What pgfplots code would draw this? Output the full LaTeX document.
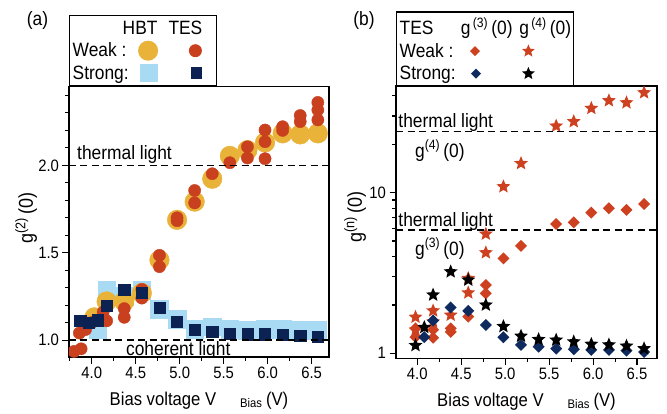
\documentclass[border=0pt]{standalone}
\usepackage{fontspec}
\setmainfont{Liberation Sans}[FakeStretch=0.9]
\usepackage{pgfplots}
\pgfplotsset{compat=1.18}

\definecolor{hbtw}{HTML}{E9B238}
\definecolor{tesw}{HTML}{C8401E}
\definecolor{hbts}{HTML}{A8DBF3}
\definecolor{tess}{HTML}{0C2252}
\definecolor{redb}{HTML}{CD4120}
\definecolor{navb}{HTML}{0E2A5E}

% filled five-point star
\pgfdeclareplotmark{fstar}{%
  \pgfpathmoveto{\pgfpointpolar{90}{\pgfplotmarksize}}%
  \pgfpathlineto{\pgfpointpolar{126}{0.45\pgfplotmarksize}}%
  \pgfpathlineto{\pgfpointpolar{162}{\pgfplotmarksize}}%
  \pgfpathlineto{\pgfpointpolar{198}{0.45\pgfplotmarksize}}%
  \pgfpathlineto{\pgfpointpolar{234}{\pgfplotmarksize}}%
  \pgfpathlineto{\pgfpointpolar{270}{0.45\pgfplotmarksize}}%
  \pgfpathlineto{\pgfpointpolar{306}{\pgfplotmarksize}}%
  \pgfpathlineto{\pgfpointpolar{342}{0.45\pgfplotmarksize}}%
  \pgfpathlineto{\pgfpointpolar{18}{\pgfplotmarksize}}%
  \pgfpathlineto{\pgfpointpolar{54}{0.45\pgfplotmarksize}}%
  \pgfpathclose\pgfusepathqfill}
% filled diamond (square on its corner)
\pgfdeclareplotmark{fdiam}{%
  \pgfpathmoveto{\pgfqpoint{0pt}{\pgfplotmarksize}}%
  \pgfpathlineto{\pgfqpoint{\pgfplotmarksize}{0pt}}%
  \pgfpathlineto{\pgfqpoint{0pt}{-\pgfplotmarksize}}%
  \pgfpathlineto{\pgfqpoint{-\pgfplotmarksize}{0pt}}%
  \pgfpathclose\pgfusepathqfill}

\newcommand\tickfont{\fontsize{16.5}{19}\selectfont}
\newcommand\lfont{\fontsize{19.3}{23}\selectfont}
\newcommand\labfont{\fontsize{20}{24}\selectfont}

\pgfplotsset{
  base/.style={
    scale only axis,
    axis line style={line width=1.3pt},
    every tick/.style={black, line width=1.1pt},
    tick align=outside,
    major tick length=6.5pt, minor tick length=4pt,
    xtick pos=left, ytick pos=left,
    xtick={4.0,4.5,5.0,5.5,6.0,6.5},
    minor xtick={3.75,4.25,4.75,5.25,5.75,6.25},
    tick label style={font=\tickfont},
    /pgf/number format/assume math mode=true,
    xticklabel style={/pgf/number format/fixed, /pgf/number format/fixed zerofill, /pgf/number format/precision=1},
    clip marker paths=true,
    legend plot pos=right,
    legend cell align=left,
    legend style={at={(0,1)}, anchor=south west, draw=black, line width=1.4pt,
      fill=white, inner xsep=2pt, font=\lfont, row sep=2.5pt,
      nodes={inner sep=1pt, text height=15pt, text depth=3pt}},
    every axis x label/.style={at={(axis description cs:0.5,0)}, anchor=base, yshift=-48pt,
      font=\fontsize{18.5}{22}\selectfont},
    xlabel={Bias voltage V\hspace{24pt}\raisebox{-2.5pt}{\fontsize{12.5}{13}\selectfont Bias}\hspace{4pt}(V)},
  },
  dashln/.style={black, line width=1.5pt, dash pattern=on 7pt off 4.5pt, forget plot},
}

\begin{document}
\begin{tikzpicture}
\path[use as bounding box] (0pt,0pt) rectangle (667pt,413pt);

% ---------------- (a) g2 ----------------
\begin{axis}[base,
  at={(69pt,56pt)}, anchor=south west,
  width=260pt, height=270.3pt,
  xmin=3.742, xmax=6.697, ymin=0.903, ymax=2.45,
  ytick={1.0,1.5,2.0},
  minor ytick={1.1,1.2,1.3,1.4,1.6,1.7,1.8,1.9,2.1,2.2,2.3,2.4},
  yticklabel style={/pgf/number format/fixed, /pgf/number format/fixed zerofill, /pgf/number format/precision=1},
  ylabel={g\textsuperscript{(2)}\,(0)},
  every axis y label/.style={at={(axis description cs:-0.165,0.515)}, rotate=90, anchor=center, font=\labfont},
  legend style={inner ysep=2.8pt},
]
\addlegendimage{legend image code/.code={%
  \path[draw=none] (-10pt,-9pt) rectangle (74.7pt,9pt);
  \node[draw=none, anchor=base, font=\lfont, inner sep=0pt] at (0.4pt,-6pt) {\makebox[0pt]{HBT}};
  \node[draw=none, anchor=base, font=\lfont, inner sep=0pt] at (45.7pt,-6pt) {\makebox[0pt]{TES}};}}
\addlegendentry{\mbox{}}
\addlegendimage{legend image code/.code={%
  \path[draw=none] (-10pt,-9pt) rectangle (74.7pt,9pt);
  \fill[draw=none, hbtw] (8.4pt,0pt) circle[radius=10pt];
  \fill[draw=none, tesw] (55.7pt,0pt) circle[radius=6.5pt];}}
\addlegendentry{Weak :}
\addlegendimage{legend image code/.code={%
  \path[draw=none] (-10pt,-9pt) rectangle (74.7pt,9pt);
  \fill[draw=none, hbts] (0pt,-9pt) rectangle (18pt,9pt);
  \fill[draw=none, tess] (50.9pt,-5.8pt) rectangle (62.5pt,5.8pt);}}
\addlegendentry{Strong:}

% HBT, strong excitation
\addplot[only marks, mark=square*, mark size=8.8pt, color=hbts] coordinates {
  (4.07,1.063) (4.17,1.288) (4.37,1.25) (4.57,1.285) (4.77,1.177) (4.97,1.119)
  (5.17,1.062) (5.37,1.077) (5.57,1.062) (5.77,1.058) (5.97,1.062) (6.17,1.062)
  (6.37,1.058) (6.57,1.058)
};
% HBT, weak excitation
\addplot[only marks, mark=*, mark size=9.8pt, color=hbtw] coordinates {
  (4.03,1.13) (4.17,1.221) (4.37,1.221) (4.57,1.269) (4.77,1.458) (4.97,1.688)
  (5.17,1.792) (5.37,1.923) (5.57,2.054) (5.77,2.087) (5.97,2.131) (6.17,2.183)
  (6.37,2.177) (6.57,2.183)
};
% TES, weak excitation
\addplot[only marks, mark=*, mark size=6.1pt, color=tesw] coordinates {
  (3.80,0.935) (3.88,0.95) (3.86,1.04) (3.93,1.06) (4.00,1.10) (4.13,1.16)
  (4.17,1.11) (4.37,1.13) (4.37,1.18) (4.57,1.24) (4.57,1.29) (4.77,1.42)
  (4.77,1.485) (4.97,1.683) (4.97,1.70) (5.17,1.785) (5.17,1.856) (5.37,1.952)
  (5.57,2.015) (5.77,2.042) (5.77,2.106) (5.97,2.038) (5.97,2.135) (5.97,2.202)
  (6.17,2.20) (6.17,2.221) (6.37,2.25) (6.37,2.285) (6.57,2.26) (6.57,2.317)
  (6.57,2.36)
};
% TES, strong excitation
\addplot[only marks, mark=square*, mark size=5.6pt, color=tess] coordinates {
  (3.87,1.111) (3.97,1.099) (4.07,1.114) (4.17,1.195) (4.37,1.29) (4.57,1.273)
  (4.77,1.185) (4.97,1.105) (5.17,1.061) (5.37,1.048) (5.57,1.038) (5.77,1.033)
  (5.97,1.033) (6.17,1.029) (6.37,1.023) (6.57,1.017)
};
\addplot[dashln] coordinates {(3.742,2.0) (6.697,2.0)};
\addplot[dashln] coordinates {(3.742,1.0) (6.697,1.0)};
\node[anchor=base west, font=\lfont, inner sep=0pt] at (axis cs:3.833,2.034) {thermal light};
\node[anchor=base, font=\lfont, inner sep=0pt] at (axis cs:4.984,0.911) {coherent light};
\end{axis}

% ---------------- (b) g3, g4 ----------------
\begin{axis}[base,
  at={(396pt,54.7pt)}, anchor=south west,
  width=261pt, height=272.3pt,
  xmin=3.758, xmax=6.727, ymode=log, ymin=0.931, ymax=46.1,
  ytick={1,10}, yticklabels={1,10},
  minor ytick={2,3,4,5,6,7,8,9,20,30,40},
  ylabel={g\textsuperscript{(n)}\,(0)},
  every axis y label/.style={at={(axis description cs:-0.157,0.519)}, rotate=90, anchor=center, font=\labfont},
  legend style={inner ysep=1.7pt},
]
\addlegendimage{legend image code/.code={%
  \path[draw=none] (0pt,-9pt) rectangle (114.6pt,15pt);
  \node[draw=none, anchor=base, font=\lfont, inner sep=0pt] at (30pt,-6pt) {\makebox[0pt]{g\textsuperscript{\,(3)}\,(0)}};
  \node[draw=none, anchor=base, font=\lfont, inner sep=0pt] at (88.5pt,-6pt) {\makebox[0pt]{g\textsuperscript{\,(4)}\,(0)}};}}
\addlegendentry{TES}
\addlegendimage{legend image code/.code={%
  \path[draw=none] (0pt,-9pt) rectangle (114.6pt,9pt);
  \draw[color=redb] plot[only marks, mark=fdiam, mark size=5pt] coordinates {(18.3pt,0pt)};
  \draw[color=redb] plot[only marks, mark=fstar, mark size=6.7pt] coordinates {(71.7pt,0pt)};}}
\addlegendentry{Weak :}
\addlegendimage{legend image code/.code={%
  \path[draw=none] (0pt,-9pt) rectangle (114.6pt,9pt);
  \draw[color=navb] plot[only marks, mark=fdiam, mark size=5pt] coordinates {(19.3pt,0pt)};
  \draw[color=black] plot[only marks, mark=fstar, mark size=6.7pt] coordinates {(71.7pt,0pt)};}}
\addlegendentry{Strong:}

% TES weak, g3
\addplot[only marks, mark=fdiam, mark size=6pt, color=redb] coordinates {
  (3.98,1.43) (3.98,1.26) (4.18,1.40) (4.18,1.25) (4.38,1.43) (4.38,1.36)
  (4.58,1.69) (4.78,2.66) (4.78,2.36) (4.98,3.90) (5.18,4.66) (5.58,6.38)
  (5.78,6.53) (5.98,7.51) (6.18,7.99) (6.38,7.80) (6.58,8.50)
};
% TES weak, g4
\addplot[only marks, mark=fstar, mark size=7.3pt, color=redb] coordinates {
  (3.98,1.68) (3.98,1.40) (4.18,1.84) (4.18,1.57) (4.38,1.73) (4.58,2.93)
  (4.58,2.38) (4.78,5.53) (4.78,4.23) (4.98,10.9) (5.18,15.2) (5.58,26.0)
  (5.78,27.7) (5.98,33.5) (6.18,37.4) (6.38,36.3) (6.58,41.9)
};
% TES strong, g3
\addplot[only marks, mark=fdiam, mark size=6pt, color=navb] coordinates {
  (4.08,1.26) (4.18,1.60) (4.38,1.93) (4.58,1.84) (4.78,1.50) (4.98,1.26)
  (5.18,1.13) (5.38,1.10) (5.58,1.07) (5.78,1.06) (5.98,1.05) (6.18,1.05)
  (6.38,1.04) (6.58,1.02)
};
% TES strong, g4
\addplot[only marks, mark=fstar, mark size=7.3pt, color=black] coordinates {
  (3.98,1.12) (4.08,1.45) (4.18,2.31) (4.38,3.22) (4.58,2.86) (4.78,2.00)
  (4.98,1.47) (5.18,1.28) (5.38,1.22) (5.58,1.21) (5.78,1.18) (5.98,1.14)
  (6.18,1.13) (6.38,1.11) (6.58,1.07)
};
\addplot[dashln] coordinates {(3.758,24) (6.727,24)};
\addplot[dashln] coordinates {(3.758,5.85) (6.727,5.85)};
\node[anchor=base west, font=\lfont, inner sep=0pt] at (axis cs:3.784,25.4) {thermal light};
\node[anchor=base west, font=\lfont, inner sep=0pt] at (axis cs:3.784,6.14) {thermal light};
\node[anchor=base west, font=\lfont, inner sep=0pt] at (axis cs:3.973,16.6) {g\textsuperscript{(4)}\,(0)};
\node[anchor=base west, font=\lfont, inner sep=0pt] at (axis cs:3.973,4.09) {g\textsuperscript{(3)}\,(0)};
\end{axis}

\node[font=\lfont, anchor=base] at (37.5pt,387pt) {(a)};
\node[font=\lfont, anchor=base] at (364pt,387pt) {(b)};
\end{tikzpicture}
\end{document}
